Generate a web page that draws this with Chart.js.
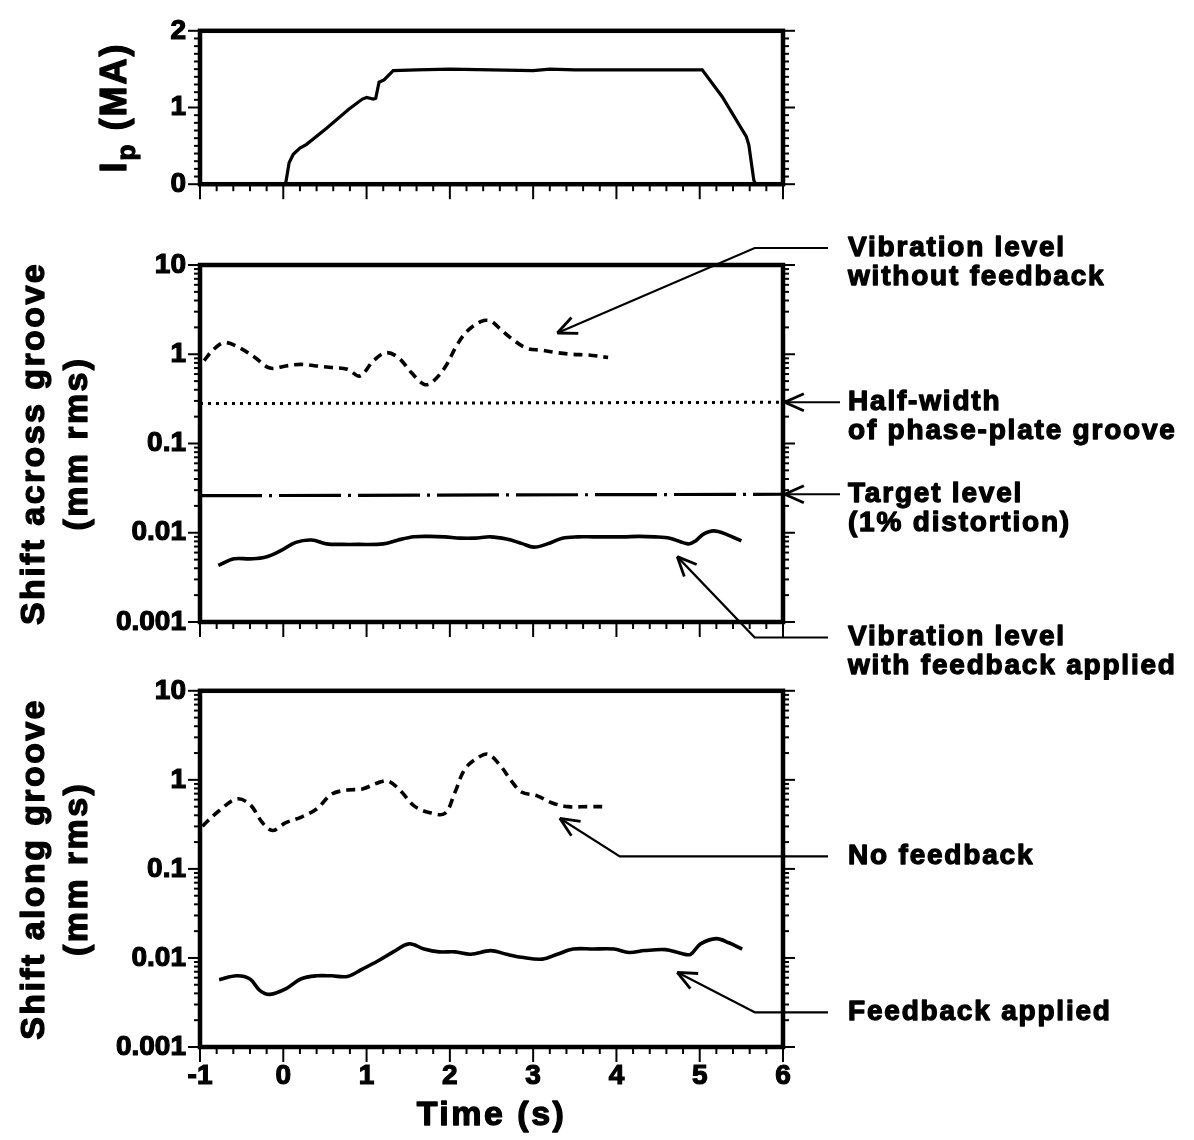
<!DOCTYPE html>
<html>
<head>
<meta charset="utf-8">
<script src="https://cdn.jsdelivr.net/npm/chart.js@4.4.1/dist/chart.umd.min.js"></script>
<style>
body{margin:0;background:#fff;}
#wrap{position:relative;width:1194px;height:1140px;background:#fff;overflow:hidden;}
canvas{position:absolute;left:0;}
</style>
</head>
<body>
<div id="wrap">
<canvas id="c1" width="1194" height="215" style="top:0px"></canvas>
<canvas id="c2" width="1194" height="465" style="top:215px"></canvas>
<canvas id="c3" width="1194" height="480" style="top:660px"></canvas>
</div>
<script>
// plasma current, top panel
const ipTime  = [0.0, 0.03, 0.07, 0.12, 0.2, 0.28, 0.52, 0.79, 0.95, 1.0, 1.08, 1.11, 1.15, 1.21, 1.32, 1.6, 2.0, 2.5, 3.0, 3.2, 3.5, 4.0, 4.5, 5.03, 5.27, 5.56, 5.59, 5.65, 5.67];
const ipValue = [0, 0.02, 0.28, 0.39, 0.47, 0.52, 0.73, 0.98, 1.11, 1.13, 1.11, 1.12, 1.33, 1.36, 1.48, 1.49, 1.5, 1.49, 1.48, 1.5, 1.49, 1.49, 1.49, 1.49, 1.14, 0.62, 0.51, 0.05, 0];

// shift across groove, no feedback (dashed)
const acrossNoFbTime  = [-0.95, -0.85, -0.71, -0.53, -0.34, -0.16, 0.03, 0.21, 0.4, 0.58, 0.77, 0.92, 1.08, 1.23, 1.38, 1.54, 1.69, 1.78, 1.94, 2.09, 2.21, 2.37, 2.49, 2.61, 2.74, 2.92, 3.1, 3.29, 3.47, 3.66, 3.9];
const acrossNoFbValue = [0.85, 1.1, 1.35, 1.19, 0.92, 0.70, 0.74, 0.77, 0.74, 0.71, 0.68, 0.57, 0.84, 1.04, 0.92, 0.62, 0.46, 0.48, 0.71, 1.29, 1.82, 2.32, 2.36, 1.9, 1.5, 1.17, 1.11, 1.04, 1.0, 0.98, 0.92];

// shift across groove, feedback applied (solid)
const acrossFbTime  = [-0.78, -0.59, -0.4, -0.22, -0.03, 0.15, 0.34, 0.52, 0.71, 0.89, 1.2, 1.38, 1.57, 1.75, 1.94, 2.12, 2.3, 2.49, 2.68, 2.86, 3.01, 3.17, 3.35, 3.54, 3.72, 3.9, 4.09, 4.27, 4.46, 4.64, 4.86, 4.95, 5.04, 5.17, 5.32, 5.5];
const acrossFbValue = [0.0043, 0.0051, 0.0051, 0.0053, 0.0063, 0.0078, 0.0083, 0.0075, 0.0074, 0.0074, 0.0075, 0.0083, 0.0090, 0.0091, 0.0090, 0.0087, 0.0087, 0.0090, 0.0085, 0.0076, 0.0069, 0.0075, 0.0087, 0.0090, 0.0090, 0.0090, 0.0090, 0.0091, 0.0090, 0.0087, 0.0075, 0.0081, 0.0096, 0.0105, 0.0096, 0.0081];

// reference levels
const levelTime      = [-1, 6];
const halfWidthValue = [0.28, 0.29];
const targetValue    = [0.026, 0.027];

// shift along groove, no feedback (dashed)
const alongNoFbTime  = [-0.97, -0.93, -0.77, -0.56, -0.4, -0.25, -0.13, 0.03, 0.21, 0.4, 0.58, 0.77, 0.95, 1.14, 1.26, 1.41, 1.57, 1.75, 1.94, 2.06, 2.18, 2.34, 2.46, 2.61, 2.74, 2.86, 3.05, 3.23, 3.42, 3.66, 3.88];
const alongNoFbValue = [0.3, 0.33, 0.45, 0.61, 0.53, 0.33, 0.27, 0.33, 0.38, 0.47, 0.69, 0.77, 0.79, 0.93, 0.97, 0.75, 0.51, 0.43, 0.42, 0.72, 1.32, 1.78, 1.94, 1.43, 0.97, 0.73, 0.66, 0.55, 0.50, 0.50, 0.50];

// shift along groove, feedback applied (solid)
const alongFbTime  = [-0.77, -0.56, -0.4, -0.28, -0.16, 0.03, 0.21, 0.4, 0.58, 0.77, 0.95, 1.14, 1.32, 1.51, 1.69, 1.87, 2.06, 2.25, 2.49, 2.68, 2.86, 3.11, 3.29, 3.48, 3.72, 3.97, 4.15, 4.34, 4.59, 4.77, 4.89, 5.01, 5.2, 5.35, 5.51];
const alongFbValue = [0.0057, 0.0063, 0.0058, 0.0043, 0.0039, 0.0045, 0.0058, 0.0063, 0.0063, 0.0062, 0.0075, 0.0093, 0.0117, 0.0144, 0.0126, 0.0117, 0.0117, 0.0110, 0.0121, 0.0110, 0.0102, 0.0097, 0.0110, 0.0126, 0.0126, 0.0126, 0.0115, 0.0121, 0.0124, 0.0113, 0.0110, 0.0144, 0.0165, 0.0148, 0.0126];

// tick labels
const timeLabels   = [-1, 0, 1, 2, 3, 4, 5, 6];
const ipLabels     = [0, 1, 2];
const decadeValues = [0.001, 0.01, 0.1, 1, 10];
const decadeLabels = ['0.001', '0.01', '0.1', '1', '10'];

const FONT = '"Liberation Sans", Arial, sans-serif';

const timeTicks = [];
for (let i = -5; i <= 30; i++) timeTicks.push(Math.round(i * 2) / 10);
const ipTicks = [];
for (let i = 0; i <= 20; i++) ipTicks.push(i / 10);
const logTicks = [];
decadeValues.slice(0, 4).forEach(d => { for (let m = 1; m <= 9; m++) logTicks.push(d * m); });
logTicks.push(10);

function pts(xs, ys){ return xs.map((x, i) => ({x: x, y: ys[i]})); }
function isDecade(v){ const l = Math.log10(v); return Math.abs(l - Math.round(l)) < 1e-9; }

// extra drawing per panel: titles and arrow notes
const extras = {
  c1: {ip: true},
  c2: {
    titles: ['Shift across groove', '(mm rms)'],
    notes: [
      {head: [3.29, 1.73], bend: [5.66, 15.5], text: ['Vibration level', 'without feedback']},
      {head: [6.02, 0.29], text: ['Half-width', 'of phase-plate groove']},
      {head: [6.02, 0.027], text: ['Target level', '(1% distortion)']},
      {head: [4.73, 0.0054], bend: [5.66, 0.00067], text: ['Vibration level', 'with feedback applied']}
    ]
  },
  c3: {
    titles: ['Shift along groove', '(mm rms)'],
    xTitle: 'Time (s)',
    notes: [
      {head: [3.32, 0.37], bend: [4.04, 0.138], text: ['No feedback']},
      {head: [4.73, 0.0069], bend: [5.66, 0.00245], text: ['Feedback applied']}
    ]
  }
};

function seg(ctx, x1, y1, x2, y2){
  ctx.beginPath(); ctx.moveTo(x1, y1); ctx.lineTo(x2, y2); ctx.stroke();
}

// heavy text: fill plus a thin stroke, like the old bold typeface
function heavyText(ctx, s, x, y){
  ctx.lineWidth = 1.3;
  ctx.lineJoin = 'round';
  ctx.strokeText(s, x, y);
  ctx.fillText(s, x, y);
}

const panelPlugin = {
  id: 'panel',
  afterDraw(chart){
    const ctx = chart.ctx, a = chart.chartArea;
    const xs = chart.scales.x, ys = chart.scales.y;
    const ex = extras[chart.canvas.id];
    ctx.save();
    ctx.strokeStyle = '#000';
    ctx.fillStyle = '#000';
    ctx.lineCap = 'butt';

    // tick marks
    ctx.lineWidth = 2;
    xs.ticks.forEach(t => {
      const px = xs.getPixelForValue(t.value);
      const major = Math.abs(t.value - Math.round(t.value)) < 1e-6;
      seg(ctx, px, a.bottom, px, a.bottom + (major ? 15 : 7));
    });
    const logY = ys.type === 'logarithmic';
    ys.ticks.forEach(t => {
      const py = ys.getPixelForValue(t.value);
      const major = logY ? isDecade(t.value) : Number.isInteger(Math.round(t.value * 1e6) / 1e6);
      const len = major ? 12 : 6;
      seg(ctx, a.left - len, py, a.left, py);
      seg(ctx, a.right, py, a.right + len, py);
    });

    // frame
    ctx.lineWidth = 4.5;
    ctx.strokeRect(a.left, a.top, a.right - a.left, a.bottom - a.top);

    const cy = (a.top + a.bottom) / 2;
    ctx.textBaseline = 'middle';

    if (ex.ip) {
      ctx.save();
      ctx.translate(116, cy);
      ctx.rotate(-Math.PI / 2);
      ctx.letterSpacing = '2px';
      ctx.font = 'bold 36px ' + FONT;
      const wI = ctx.measureText('I').width;
      const wM = ctx.measureText(' (MA)').width;
      ctx.font = 'bold 26px ' + FONT;
      const wp = ctx.measureText('p').width;
      let x0 = -(wI + wp + wM) / 2;
      ctx.textAlign = 'left';
      ctx.font = 'bold 36px ' + FONT;
      heavyText(ctx, 'I', x0, 0);
      ctx.font = 'bold 26px ' + FONT;
      heavyText(ctx, 'p', x0 + wI, 12);
      ctx.font = 'bold 36px ' + FONT;
      heavyText(ctx, ' (MA)', x0 + wI + wp, 0);
      ctx.restore();
    }

    if (ex.titles) {
      const tx = [35, 78];
      ex.titles.forEach((s, i) => {
        ctx.save();
        ctx.translate(tx[i], cy);
        ctx.rotate(-Math.PI / 2);
        ctx.font = 'bold 34px ' + FONT;
        ctx.letterSpacing = '2.4px';
        ctx.textAlign = 'center';
        heavyText(ctx, s, 0, 0);
        ctx.restore();
      });
    }

    if (ex.xTitle) {
      ctx.save();
      ctx.font = 'bold 34px ' + FONT;
      ctx.letterSpacing = '2.5px';
      ctx.textAlign = 'center';
      heavyText(ctx, ex.xTitle, (a.left + a.right) / 2, a.bottom + 69);
      ctx.restore();
    }

    (ex.notes || []).forEach(n => {
      const hx = xs.getPixelForValue(n.head[0]), hy = ys.getPixelForValue(n.head[1]);
      let line, ty;
      if (n.bend) {
        const bx = xs.getPixelForValue(n.bend[0]), by = ys.getPixelForValue(n.bend[1]);
        line = [[hx, hy], [bx, by], [a.right + 45, by]];
        ty = by;
      } else {
        line = [[hx, hy], [a.right + 57, hy]];
        ty = hy;
      }
      ctx.lineWidth = 2.2;
      ctx.beginPath();
      ctx.moveTo(line[0][0], line[0][1]);
      for (let i = 1; i < line.length; i++) ctx.lineTo(line[i][0], line[i][1]);
      ctx.stroke();
      // open arrow head
      const ang = Math.atan2(hy - line[1][1], hx - line[1][0]);
      ctx.lineWidth = 2.8;
      [0.42, -0.42].forEach(d => {
        seg(ctx, hx, hy, hx - 21 * Math.cos(ang + d), hy - 21 * Math.sin(ang + d));
      });
      ctx.font = 'bold 28px ' + FONT;
      ctx.letterSpacing = '1.8px';
      ctx.textAlign = 'left';
      n.text.forEach((s, i) => heavyText(ctx, s, a.right + 65, ty + i * 29));
    });

    ctx.restore();
  }
};

const tickFont = {family: FONT, size: 28, weight: 'bold'};

function xScale(showLabels, height){
  return {
    type: 'linear', min: -1, max: 6,
    afterBuildTicks: s => { s.ticks = timeTicks.map(v => ({value: v})); },
    afterFit: s => { s.height = height; },
    grid: {display: false, drawTicks: false},
    border: {display: false},
    ticks: {
      display: showLabels, autoSkip: false, maxRotation: 0, padding: 12,
      color: '#000', font: tickFont, textStrokeColor: '#000', textStrokeWidth: 1.2,
      callback: v => timeLabels.includes(Math.round(v * 1e6) / 1e6) ? String(Math.round(v)) : ''
    }
  };
}

function logScale(){
  return {
    type: 'logarithmic', min: 0.001, max: 10,
    afterBuildTicks: s => { s.ticks = logTicks.map(v => ({value: v})); },
    afterFit: s => { s.width = 200; },
    grid: {display: false, drawTicks: false},
    border: {display: false},
    ticks: {
      autoSkip: false, padding: 14, color: '#000', font: tickFont,
      textStrokeColor: '#000', textStrokeWidth: 1.2,
      callback: v => {
        const i = decadeValues.findIndex(d => Math.abs(Math.log10(d) - Math.log10(v)) < 1e-6);
        return i >= 0 ? decadeLabels[i] : '';
      }
    }
  };
}

function baseOptions(padTop, scales){
  return {
    responsive: false,
    animation: false,
    layout: {padding: {top: padTop, right: 411, left: 0, bottom: 0}},
    plugins: {legend: {display: false}, tooltip: {enabled: false}},
    elements: {point: {radius: 0}},
    scales: scales
  };
}

function lineSet(data, dash, width, tension){
  return {
    data: data, borderColor: '#000', borderWidth: width,
    borderDash: dash, tension: tension, fill: false, pointRadius: 0
  };
}

new Chart(document.getElementById('c1'), {
  type: 'line',
  data: {datasets: [lineSet(pts(ipTime, ipValue), [], 3.2, 0)]},
  options: baseOptions(22, {
    x: xScale(false, 15),
    y: {
      type: 'linear', min: 0, max: 2,
      afterBuildTicks: s => { s.ticks = ipTicks.map(v => ({value: v})); },
      afterFit: s => { s.width = 200; },
      grid: {display: false, drawTicks: false},
      border: {display: false},
      ticks: {
        autoSkip: false, padding: 14, color: '#000', font: tickFont,
        textStrokeColor: '#000', textStrokeWidth: 1.2,
        callback: v => ipLabels.includes(Math.round(v * 1e6) / 1e6) ? String(Math.round(v)) : ''
      }
    }
  }),
  plugins: [panelPlugin]
});

new Chart(document.getElementById('c2'), {
  type: 'line',
  data: {datasets: [
    lineSet(pts(acrossNoFbTime, acrossNoFbValue), [9, 6], 3.6, 0.35),
    lineSet(pts(levelTime, halfWidthValue), [3, 5], 3, 0),
    lineSet(pts(levelTime, targetValue), [62, 7, 3, 7], 3.2, 0),
    lineSet(pts(acrossFbTime, acrossFbValue), [], 3.6, 0.35)
  ]},
  options: baseOptions(50, {x: xScale(false, 58), y: logScale()}),
  plugins: [panelPlugin]
});

new Chart(document.getElementById('c3'), {
  type: 'line',
  data: {datasets: [
    lineSet(pts(alongNoFbTime, alongNoFbValue), [9, 6], 3.6, 0.35),
    lineSet(pts(alongFbTime, alongFbValue), [], 3.6, 0.35)
  ]},
  options: baseOptions(30, {x: xScale(true, 93), y: logScale()}),
  plugins: [panelPlugin]
});
</script>
</body>
</html>
